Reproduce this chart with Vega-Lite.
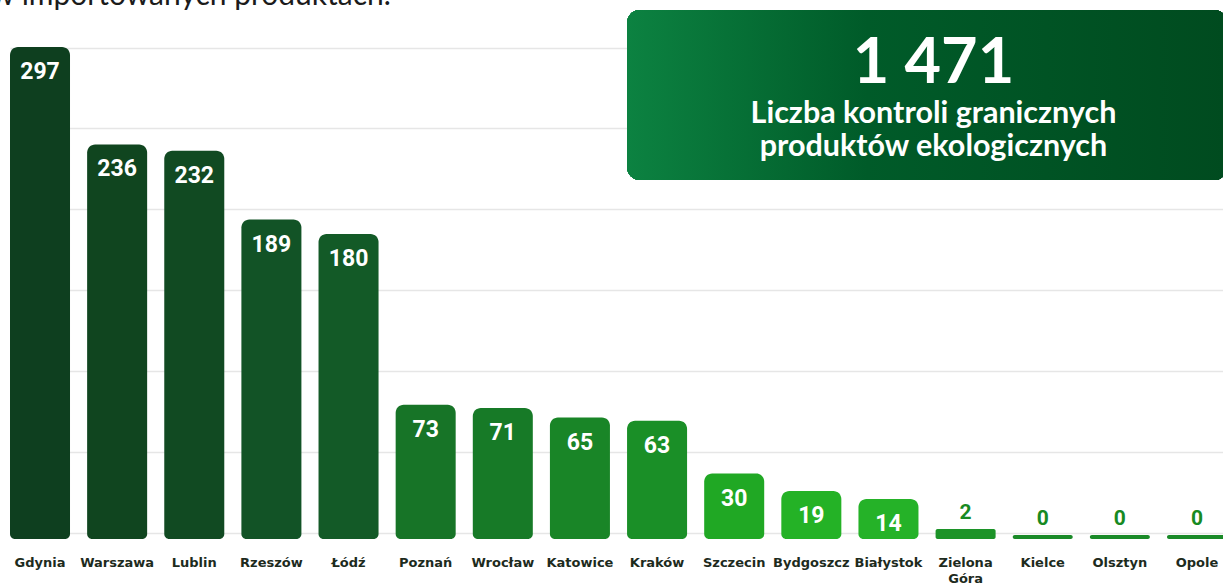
{
  "$schema": "https://vega.github.io/schema/vega-lite/v6.json",
  "width": 1223,
  "height": 519,
  "autosize": {"type": "none"},
  "padding": {"top": 20, "left": 0, "right": 0, "bottom": 48},
  "background": "white",
  "config": {
    "view": {"stroke": null},
    "locale": {"number": {"decimal": ",", "thousands": " ", "grouping": [3], "currency": ["", " zł"]}}
  },
  "resolve": {"scale": {"y": "independent"}},
  "data": {
    "values": [
      {"city": "Gdynia", "value": 297},
      {"city": "Warszawa", "value": 236},
      {"city": "Lublin", "value": 232},
      {"city": "Rzeszów", "value": 189},
      {"city": "Łódź", "value": 180},
      {"city": "Poznań", "value": 73},
      {"city": "Wrocław", "value": 71},
      {"city": "Katowice", "value": 65},
      {"city": "Kraków", "value": 63},
      {"city": "Szczecin", "value": 30},
      {"city": "Bydgoszcz", "value": 19},
      {"city": "Białystok", "value": 14},
      {"city": "Zielona Góra", "value": 2},
      {"city": "Kielce", "value": 0},
      {"city": "Olsztyn", "value": 0},
      {"city": "Opole", "value": 0}
    ]
  },
  "encoding": {
    "x": {
      "field": "city",
      "type": "nominal",
      "sort": null,
      "scale": {"range": [10, 1227], "paddingInner": 0.222, "paddingOuter": 0},
      "axis": {
        "title": null,
        "domain": false,
        "ticks": false,
        "grid": false,
        "labelAngle": 0,
        "labelFont": "DejaVu Sans",
        "labelFontWeight": "bold",
        "labelFontSize": 13,
        "labelColor": "#1d2b1d",
        "labelPadding": 17,
        "labelBaseline": "top",
        "labelExpr": "split(datum.label, ' ')",
        "labelLineHeight": 16,
        "labelOverlap": false,
        "labelBound": false
      }
    },
    "color": {
      "field": "city",
      "type": "nominal",
      "sort": null,
      "scale": {
        "domain": ["Gdynia", "Warszawa", "Lublin", "Rzeszów", "Łódź", "Poznań", "Wrocław", "Katowice", "Kraków", "Szczecin", "Bydgoszcz", "Białystok", "Zielona Góra", "Kielce", "Olsztyn", "Opole"],
        "range": ["#0e3f1f", "#10451f", "#114a22", "#125326", "#135a27", "#177427", "#177a27", "#198527", "#1a8f27", "#20a824", "#24b226", "#25b228", "#1c9328", "#1a8a28", "#1a8a28", "#1a8a28"]
      },
      "legend": null
    }
  },
  "layer": [
    {
      "transform": [{"filter": "datum.value >= 10"}],
      "mark": {"type": "bar", "cornerRadiusTopLeft": 8, "cornerRadiusTopRight": 8, "cornerRadiusBottomLeft": 5, "cornerRadiusBottomRight": 5},
      "encoding": {
        "y": {
          "field": "value",
          "type": "quantitative",
          "scale": {"domain": [-11, 313.9], "nice": false, "zero": false},
          "axis": {
            "values": [-7, 43.6, 94.2, 144.8, 195.4, 246, 296.6],
            "grid": true,
            "gridColor": "#e6e6e6",
            "gridWidth": 1.5,
            "labels": false,
            "ticks": false,
            "domain": false,
            "title": null
          }
        },
        "y2": {"datum": -11}
      }
    },
    {
      "transform": [{"filter": "datum.value < 10"}],
      "mark": {"type": "bar", "cornerRadius": 2},
      "encoding": {
        "y": {"field": "value", "type": "quantitative", "scale": {"domain": [-1.33, 171.7], "nice": false, "zero": false}, "axis": null},
        "y2": {"datum": -1.33}
      }
    },
    {
      "mark": {
        "type": "rect",
        "cornerRadius": 13,
        "color": {
          "gradient": "linear",
          "x1": 0, "y1": 0, "x2": 1, "y2": 0,
          "stops": [
            {"offset": 0, "color": "#0c8241"},
            {"offset": 0.4, "color": "#005b29"},
            {"offset": 1, "color": "#004b1f"}
          ]
        }
      },
      "encoding": {
        "x": {"datum": "Kraków", "bandPosition": 0},
        "x2": {"datum": "Opole", "bandPosition": 1},
        "y": {"datum": 320.2, "scale": {"domain": [-11, 313.9], "nice": false, "zero": false}, "axis": null},
        "y2": {"datum": 213.7},
        "color": null
      }
    },
    {
      "transform": [{"filter": "datum.value >= 10"}],
      "mark": {"type": "text", "baseline": "top", "dy": 14, "fontSize": 23, "font": "Roboto", "fontWeight": "bold", "color": "white"},
      "encoding": {
        "y": {"field": "value", "type": "quantitative", "scale": {"domain": [-11, 313.9], "nice": false, "zero": false}, "axis": null},
        "text": {"field": "value", "type": "quantitative"},
        "color": null
      }
    },
    {
      "transform": [{"filter": "datum.value < 10"}],
      "mark": {"type": "text", "baseline": "alphabetic", "dy": -10, "fontSize": 21, "font": "Roboto", "fontWeight": "bold", "color": "#178a22"},
      "encoding": {
        "y": {"field": "value", "type": "quantitative", "scale": {"domain": [-1.33, 171.7], "nice": false, "zero": false}, "axis": null},
        "text": {"field": "value", "type": "quantitative"},
        "color": null
      }
    },
    {
      "transform": [{"aggregate": [{"op": "sum", "field": "value", "as": "total"}]}],
      "mark": {"type": "text", "baseline": "alphabetic", "align": "center", "dx": 15, "fontSize": 63, "font": "Lato", "fontWeight": "bold", "color": "white"},
      "encoding": {
        "x": {"datum": "Białystok", "bandPosition": 1},
        "y": {"datum": 274.5, "scale": {"domain": [-11, 313.9], "nice": false, "zero": false}, "axis": null},
        "text": {"field": "total", "type": "quantitative", "format": ",d"},
        "color": null
      }
    },
    {
      "data": {"values": [{"caption": "Liczba kontroli granicznych|produktów ekologicznych"}]},
      "mark": {"type": "text", "baseline": "alphabetic", "align": "center", "dx": 15, "lineBreak": "|", "lineHeight": 33, "fontSize": 30.5, "font": "Lato", "fontWeight": "bold", "color": "white"},
      "encoding": {
        "x": {"datum": "Białystok", "bandPosition": 1},
        "y": {"datum": 249.4, "scale": {"domain": [-11, 313.9], "nice": false, "zero": false}, "axis": null},
        "text": {"field": "caption", "type": "nominal"},
        "color": null
      }
    },
    {
      "data": {"values": [{"heading": "w importowanych produktach."}]},
      "mark": {"type": "text", "baseline": "alphabetic", "align": "left", "dx": -19, "fontSize": 30, "font": "Lato", "fontWeight": "normal", "color": "#1b1b1b"},
      "encoding": {
        "x": {"datum": "Gdynia", "bandPosition": 0},
        "y": {"datum": 323, "scale": {"domain": [-11, 313.9], "nice": false, "zero": false}, "axis": null},
        "text": {"field": "heading", "type": "nominal"},
        "color": null
      }
    }
  ]
}
